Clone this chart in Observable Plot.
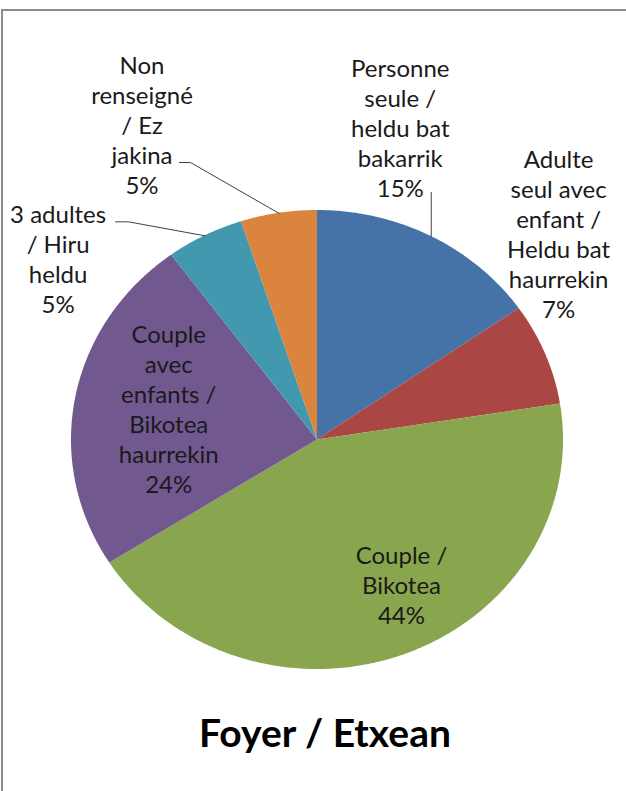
<!DOCTYPE html>
<html><head><meta charset="utf-8">
<script src="https://cdn.jsdelivr.net/npm/d3@7"></script>
<script src="https://cdn.jsdelivr.net/npm/@observablehq/plot@0.6"></script>
<style>
body{margin:0;background:#fff;width:626px;height:791px;overflow:hidden;position:relative;font-family:Lato,sans-serif}
#frame{position:absolute;left:1px;top:9px;width:640px;height:800px;border-top:2px solid #8c8c8c;border-left:2px solid #8c8c8c}
#chart{position:absolute;left:0;top:0}
#title{position:absolute;top:709px;left:0;width:650px;text-align:center;font:bold 39px Lato;color:#000}
</style></head><body>
<div id="frame"></div><div id="chart"></div><div id="title">Foyer / Etxean</div>
<script>
// ---- data ----
const categories = [
  "Personne seule / heldu bat bakarrik",
  "Adulte seul avec enfant / Heldu bat haurrekin",
  "Couple / Bikotea",
  "Couple avec enfants / Bikotea haurrekin",
  "3 adultes / Hiru heldu",
  "Non renseigné / Ez jakina"
];
const values = [15.3, 7.2, 43.5, 23.9, 5.1, 5.0];
const pctLabels = ["15%", "7%", "44%", "24%", "5%", "5%"];
const wrappedNames = [
  ["Personne", "seule /", "heldu bat", "bakarrik"],
  ["Adulte", "seul avec", "enfant /", "Heldu bat", "haurrekin"],
  ["Couple /", "Bikotea"],
  ["Couple", "avec", "enfants /", "Bikotea", "haurrekin"],
  ["3 adultes", "/ Hiru", "heldu"],
  ["Non", "renseigné", "/ Ez", "jakina"]
];
const colors = ["#4572A7", "#AA4643", "#89A54E", "#71588F", "#4198AF", "#DB843D"];

// ---- layout (pixel offsets from each slice's arc midpoint) ----
const labelOffsets = [[-31, -109], [13, -121], [-3, -70], [93, 11], [-147, 23], [-137, -89]];
const leaderOffsets = [
  [[0, 0], [0, -44]],
  null, null, null,
  [[0, 0], [-76.6, -14], [-89.6, -14]],
  [[0, 0], [-88.5, -50.8], [-99.5, -50.8]]
];
const xRange = [71, 563], yRange = [669, 210];
const kx = 2 / (xRange[1] - xRange[0]), ky = 2 / (yRange[0] - yRange[1]);

// ---- geometry from values ----
const total = d3.sum(values);
let acc = 0;
const slices = categories.map((c, i) => {
  const a0 = acc / total * 2 * Math.PI; acc += values[i];
  const a1 = acc / total * 2 * Math.PI;
  const am = (a0 + a1) / 2;
  return {key: c, i, a0, a1, mx: Math.sin(am), my: Math.cos(am)};
});
const arcPts = [];
for (const s of slices) {
  const n = Math.max(2, Math.ceil((s.a1 - s.a0) / (Math.PI / 360)));
  for (let j = 0; j <= n; j++) {
    const a = s.a0 + (s.a1 - s.a0) * j / n;
    arcPts.push({key: s.key, x: Math.sin(a), y: Math.cos(a)});
  }
}
const leaders = [];
slices.forEach((s, i) => {
  if (!leaderOffsets[i]) return;
  leaderOffsets[i].forEach(([dx, dy]) => leaders.push({key: s.key, x: s.mx + dx * kx, y: s.my - dy * ky}));
});

const marks = [
  Plot.area(arcPts, {x1: "x", y1: "y", x2: () => 0, y2: () => 0, fill: "key", z: "key", stroke: "none"}),
  Plot.line(leaders, {x: "x", y: "y", z: "key", stroke: "#404040", strokeWidth: 1})
];
slices.forEach((s, i) => {
  marks.push(Plot.text([s], {
    x: "mx", y: "my",
    text: d => [...wrappedNames[d.i], pctLabels[d.i]].join("\n"),
    dx: labelOffsets[i][0], dy: labelOffsets[i][1],
    textAnchor: "middle", lineAnchor: "middle", lineHeight: 1.25,
    fontSize: 24, fontFamily: "Lato", fill: "#1a1a1a"
  }));
});

const chart = Plot.plot({
  width: 626, height: 700,
  margin: 0,
  x: {domain: [-1, 1], range: xRange, axis: null},
  y: {domain: [-1, 1], range: yRange, axis: null},
  color: {domain: categories, range: colors},
  style: {background: "transparent", overflow: "visible"},
  marks
});
document.getElementById("chart").appendChild(chart);
</script>
</body></html>
